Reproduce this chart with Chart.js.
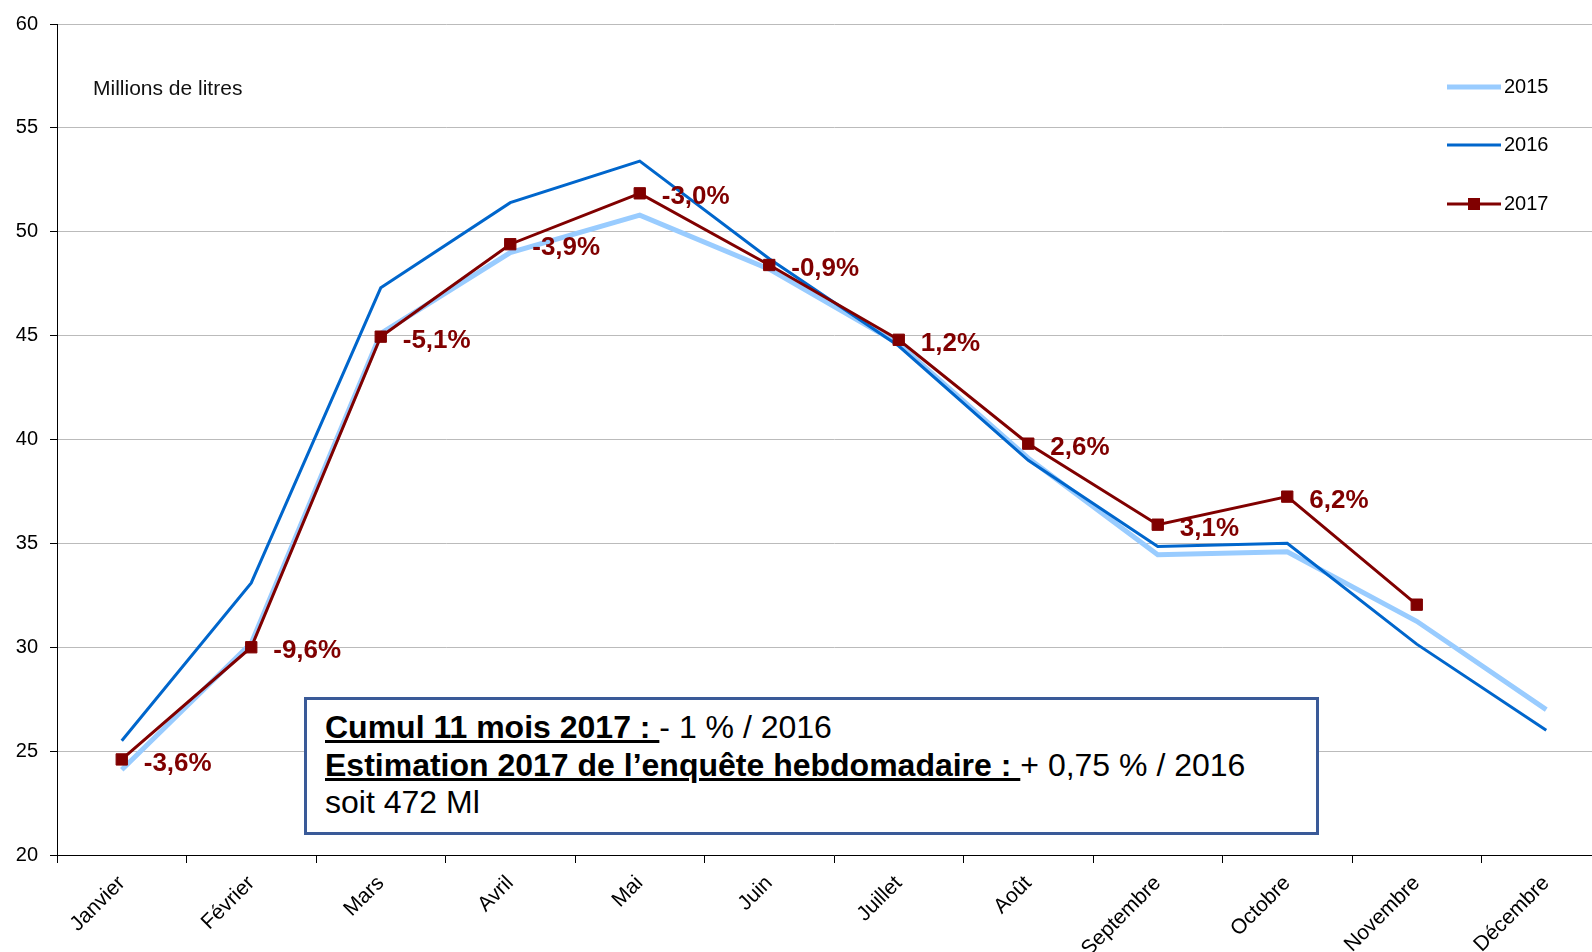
<!DOCTYPE html>
<html>
<head>
<meta charset="utf-8">
<script src="https://cdn.jsdelivr.net/npm/chart.js@4"></script>
<style>
  html, body { margin: 0; padding: 0; background: #fff; overflow: hidden; }
  #wrap { position: relative; width: 1592px; height: 952px; overflow: hidden; }
  #myChart { position: absolute; left: 0; top: 0; }
  .note {
    position: absolute; left: 304px; top: 697px; width: 1015px; height: 138px;
    border: 3px solid #3a5a98; background: #fff; box-sizing: border-box;
    font-family: "Liberation Sans", Arial, sans-serif; font-size: 32px; color: #000;
    padding: 9px 0 0 18px; line-height: 37.5px; white-space: pre;
  }
  .note b { text-decoration: underline; }
</style>
</head>
<body>
<div id="wrap">
  <canvas id="myChart" width="1620" height="952"></canvas>
  <div class="note"><b>Cumul 11 mois 2017 : </b>- 1 % / 2016
<b>Estimation 2017 de l’enquête hebdomadaire : </b>+ 0,75 % / 2016
soit 472 Ml</div>
</div>
<script>
const months = ['Janvier', 'Février', 'Mars', 'Avril', 'Mai', 'Juin', 'Juillet', 'Août', 'Septembre', 'Octobre', 'Novembre', 'Décembre'];
const v2015 = [24.1, 30.2, 45.1, 49.0, 50.8, 48.2, 44.6, 39.1, 34.45, 34.6, 31.25, 27.0];
const v2016 = [25.5, 33.1, 47.3, 51.4, 53.4, 48.7, 44.5, 39.0, 34.85, 35.0, 30.15, 26.0];
const v2017 = [24.6, 30.0, 44.95, 49.4, 51.85, 48.4, 44.8, 39.8, 35.9, 37.25, 32.05, null];
const changes = ['-3,6%', '-9,6%', '-5,1%', '-3,9%', '-3,0%', '-0,9%', '1,2%', '2,6%', '3,1%', '6,2%', null, null];
const yTicks = [20, 25, 30, 35, 40, 45, 50, 55, 60];

const FONT = '"Liberation Sans", Arial, sans-serif';

// labels of the 2017 variation + unit text + legend
const extras = {
  id: 'extras',
  afterDatasetsDraw(chart) {
    const ctx = chart.ctx;
    ctx.save();
    // variation labels next to the 2017 markers
    const meta = chart.getDatasetMeta(2);
    ctx.font = 'bold 26px ' + FONT;
    ctx.fillStyle = '#800000';
    ctx.textAlign = 'left';
    ctx.textBaseline = 'middle';
    changes.forEach((t, i) => {
      if (!t) return;
      const p = meta.data[i];
      ctx.fillText(t, p.x + 22, p.y + 4);
    });

    ctx.font = '21px ' + FONT;
    ctx.fillStyle = '#111';
    ctx.fillText('Millions de litres', 93, 89);

    // legend
    const rows = [87, 145, 204];
    chart.data.datasets.forEach((ds, i) => {
      const y = rows[i];
      ctx.strokeStyle = ds.borderColor;
      ctx.lineWidth = ds.borderWidth;
      ctx.beginPath();
      ctx.moveTo(1447, y);
      ctx.lineTo(1501, y);
      ctx.stroke();
      if (ds.pointRadius) {
        ctx.fillStyle = ds.borderColor;
        ctx.fillRect(1468, y - 6, 12, 12);
      }
      ctx.fillStyle = '#000';
      ctx.font = '20px ' + FONT;
      ctx.fillText(ds.label, 1504, y);
    });
    ctx.restore();
  }
};

new Chart(document.getElementById('myChart').getContext('2d'), {
  type: 'line',
  data: {
    labels: months,
    datasets: [
      {
        label: '2015',
        data: v2015,
        borderColor: '#99ccff',
        borderWidth: 5,
        pointRadius: 0,
        tension: 0,
        order: 3
      },
      {
        label: '2016',
        data: v2016,
        borderColor: '#0066cc',
        borderWidth: 3,
        pointRadius: 0,
        tension: 0,
        order: 2
      },
      {
        label: '2017',
        data: v2017,
        borderColor: '#800000',
        backgroundColor: '#800000',
        borderWidth: 3,
        pointStyle: 'rect',
        pointRadius: 8,
        pointBorderWidth: 1,
        tension: 0,
        order: 1
      }
    ]
  },
  options: {
    responsive: false,
    animation: false,
    layout: { padding: { top: 22, right: 8, left: 0, bottom: 0 } },
    plugins: {
      legend: { display: false },
      tooltip: { enabled: false }
    },
    scales: {
      x: {
        offset: true,
        grid: { drawOnChartArea: false, offset: true, tickLength: 8, tickColor: '#000' },
        border: { color: '#000', width: 1 },
        ticks: {
          color: '#000',
          font: { family: FONT, size: 21 },
          maxRotation: 45,
          minRotation: 45,
          padding: 8,
          autoSkip: false
        },
        afterFit(scale) { scale.height = 97; }
      },
      y: {
        min: 20,
        max: 60,
        afterBuildTicks(scale) { scale.ticks = yTicks.map(v => ({ value: v })); },
        grid: { color: '#bbbbbb', lineWidth: 1, tickLength: 7, tickColor: '#000' },
        border: { color: '#000', width: 1 },
        ticks: {
          color: '#000',
          font: { family: FONT, size: 20 },
          padding: 12
        },
        afterFit(scale) { scale.width = 57; }
      }
    }
  },
  plugins: [extras]
});
</script>
</body>
</html>
